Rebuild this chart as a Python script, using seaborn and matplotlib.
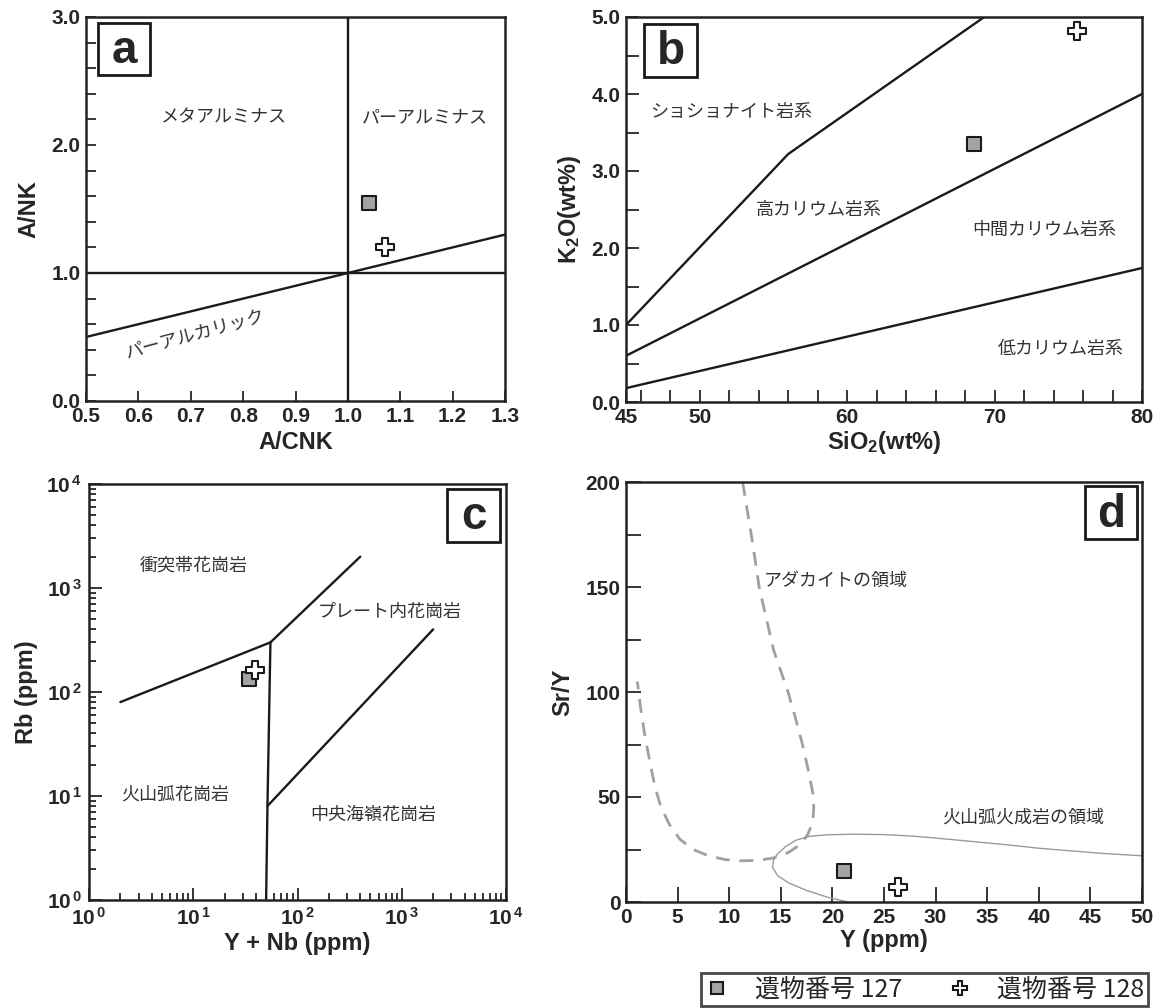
import numpy as np
import matplotlib
matplotlib.use("Agg")
import matplotlib.pyplot as plt
import seaborn as sns
from matplotlib.lines import Line2D
from matplotlib.patches import Rectangle
from matplotlib.ticker import FixedLocator, LogLocator, NullFormatter, FuncFormatter

# ── Samples ───────────────────────────────────────────────
SAMPLES = ["遺物番号 127", "遺物番号 128"]
FILLS   = {"遺物番号 127": "#a3a3a3", "遺物番号 128": "white"}
MARKS   = {"遺物番号 127": "s", "遺物番号 128": "P"}

# (a) A/CNK vs A/NK
A_CNK = [1.04, 1.07]
A_NK  = [1.55, 1.20]
A_HL_X, A_HL_Y = [0.5, 1.3], [1.0, 1.0]
A_VL_X, A_VL_Y = [1.0, 1.0], [0.0, 3.0]
A_DG_X, A_DG_Y = [0.5, 1.3], [0.5, 1.3]

# (b) SiO2 vs K2O
SIO2 = [68.6, 75.6]
K2O  = [3.35, 4.82]
B_SHO_X, B_SHO_Y = [45, 56, 69.3], [1.0, 3.22, 5.0]
B_HK_X,  B_HK_Y  = [45, 80], [0.6, 4.0]
B_CA_X,  B_CA_Y  = [45, 80], [0.18, 1.74]

# (c) Y+Nb vs Rb
YNB = [34, 39]
RB  = [132, 163]
C_SYN_X, C_SYN_Y   = [2, 55], [80, 300]
C_WPG_X, C_WPG_Y   = [55, 400], [300, 2000]
C_VERT_X, C_VERT_Y = [55, 51.5, 50], [300, 8, 1]
C_ORG_X, C_ORG_Y   = [51.5, 2000], [8, 400]

# (d) Y vs Sr/Y
Y_PPM = [21.1, 26.4]
SR_Y  = [14.9, 7.1]
ADK_X = [11.3, 11.8, 12.3, 12.9, 13.6, 14.3, 15.0, 15.7, 16.4, 17.1, 17.7, 18.1,
         18.2, 18.1, 17.6, 16.8, 15.7, 14.3, 12.8, 11.2, 9.6, 8.0, 6.5, 5.2,
         4.2, 3.4, 2.8, 2.3, 1.8, 1.4, 1.1]
ADK_Y = [200, 185, 170, 150, 135, 120, 110, 100, 88, 75, 62, 52,
         45, 38, 32, 27, 23.5, 21, 19.8, 19.6, 20.2, 22, 25, 30,
         37, 45, 55, 67, 80, 93, 105]
ARC_X = [21.5, 19.5, 17.5, 15.8, 14.7, 14.2, 14.3, 14.7, 15.5, 16.5, 17.8, 19.5,
         22, 25, 28, 31, 34, 37, 40, 43, 46, 50]
ARC_Y = [0, 2.3, 5.5, 9, 12.5, 16.5, 20, 23, 26.5, 29.5, 31.3, 32.0,
         32.3, 32.1, 31.3, 30, 28.6, 27.2, 25.6, 24.4, 23.2, 22]

# ── Style ─────────────────────────────────────────────────
sns.set_style("ticks")
plt.rcParams["font.family"] = ["Liberation Sans", "Noto Sans CJK JP"]
plt.rcParams.update({
    "font.weight": "bold",
    "axes.labelweight": "bold",
    "axes.labelsize": 17,
    "xtick.labelsize": 15,
    "ytick.labelsize": 15,
    "xtick.direction": "in",
    "ytick.direction": "in",
    "axes.linewidth": 1.8,
    "axes.edgecolor": "#222222",
    "xtick.major.width": 1.3,
    "ytick.major.width": 1.3,
    "xtick.minor.width": 1.3,
    "ytick.minor.width": 1.3,
    "mathtext.fontset": "custom",
    "mathtext.rm": "Liberation Sans:bold",
    "mathtext.bf": "Liberation Sans:bold",
    "mathtext.it": "Liberation Sans:bold:italic",
})

JP = dict(family="Noto Sans CJK JP", fontweight="normal", fontsize=13, color="#333333")
LINE = dict(color="#1a1a1a", linewidth=1.7)


def draw_line(ax, xs, ys, **kw):
    sns.lineplot(x=xs, y=ys, sort=False, estimator=None, ax=ax, legend=False, **kw)


def draw_points(ax, xs, ys):
    for x, y, name in zip(xs, ys, SAMPLES):
        size = 95 if MARKS[name] == "s" else 150
        sns.scatterplot(x=[x], y=[y], marker=MARKS[name], color=FILLS[name],
                        edgecolor="#1a1a1a", linewidth=1.5, s=size, ax=ax,
                        legend=False, zorder=6)


def add_letter(ax, letter, x0, y0, x1, y1):
    ax.add_patch(Rectangle((x0, y0), x1 - x0, y1 - y0, transform=ax.transAxes,
                           facecolor="white", edgecolor="#1a1a1a", linewidth=2,
                           zorder=7, clip_on=False))
    ax.text((x0 + x1) / 2, (y0 + y1) / 2 - 0.005, letter, transform=ax.transAxes,
            ha="center", va="center", fontsize=33, fontweight="bold", zorder=8)


W, H = 1169, 1008
fig = plt.figure(figsize=(W / 100, H / 100), dpi=100)


def axes_px(left, right, top, bottom):
    return fig.add_axes([left / W, 1 - bottom / H, (right - left) / W, (bottom - top) / H])


ax_a = axes_px(86, 505, 17, 401)
ax_b = axes_px(626, 1142, 17, 402)
ax_c = axes_px(89, 506, 484, 900)
ax_d = axes_px(626, 1142, 482, 902)

# ── (a) ──────────────────────────────────────────────────
ax = ax_a
draw_line(ax, A_HL_X, A_HL_Y, **LINE)
draw_line(ax, A_VL_X, A_VL_Y, **LINE)
draw_line(ax, A_DG_X, A_DG_Y, **LINE)
draw_points(ax, A_CNK, A_NK)
ax.set_xlim(0.5, 1.3); ax.set_ylim(0, 3)
ax.xaxis.set_major_locator(FixedLocator(np.arange(0.5, 1.31, 0.1)))
ax.xaxis.set_major_formatter(FuncFormatter(lambda v, p: f"{v:.1f}"))
ax.yaxis.set_major_locator(FixedLocator([0, 1, 2, 3]))
ax.yaxis.set_major_formatter(FuncFormatter(lambda v, p: f"{v:.1f}"))
ax.yaxis.set_minor_locator(FixedLocator(np.arange(0, 3.01, 0.2)))
ax.tick_params(which="both", length=7, pad=4)
ax.set_xlabel("A/CNK", labelpad=4)
ax.set_ylabel("A/NK", labelpad=8)
ax.text(0.763, 2.22, "メタアルミナス", ha="center", va="center", **JP)
ax.text(1.147, 2.22, "パーアルミナス", ha="center", va="center", **JP)
ax.text(0.71, 0.51, "パーアルカリック", ha="center", va="center", rotation=15, **JP)
add_letter(ax, "a", 0.029, 0.849, 0.153, 0.984)

# ── (b) ──────────────────────────────────────────────────
ax = ax_b
draw_line(ax, B_SHO_X, B_SHO_Y, **LINE)
draw_line(ax, B_HK_X, B_HK_Y, **LINE)
draw_line(ax, B_CA_X, B_CA_Y, **LINE)
draw_points(ax, SIO2, K2O)
ax.set_xlim(45, 80); ax.set_ylim(0, 5)
ax.xaxis.set_major_locator(FixedLocator([45, 50, 60, 70, 80]))
ax.xaxis.set_minor_locator(FixedLocator(np.arange(46, 81, 2)))
ax.yaxis.set_major_locator(FixedLocator([0, 1, 2, 3, 4, 5]))
ax.yaxis.set_major_formatter(FuncFormatter(lambda v, p: f"{v:.1f}"))
ax.yaxis.set_minor_locator(FixedLocator(np.arange(0, 5.01, 0.5)))
ax.tick_params(which="both", length=9, pad=4)
ax.set_xlabel(r"SiO$_\mathregular{2}$(wt%)", labelpad=2)
ax.set_ylabel(r"K$_\mathregular{2}$O(wt%)", labelpad=6)
ax.text(52.1, 3.77, "ショショナイト岩系", ha="center", va="center", **JP)
ax.text(58.1, 2.49, "高カリウム岩系", ha="center", va="center", **JP)
ax.text(73.4, 2.24, "中間カリウム岩系", ha="center", va="center", **JP)
ax.text(74.5, 0.69, "低カリウム岩系", ha="center", va="center", **JP)
add_letter(ax, "b", 0.035, 0.844, 0.138, 0.982)

# ── (c) ──────────────────────────────────────────────────
ax = ax_c
draw_line(ax, C_SYN_X, C_SYN_Y, **LINE)
draw_line(ax, C_WPG_X, C_WPG_Y, **LINE)
draw_line(ax, C_VERT_X, C_VERT_Y, **LINE)
draw_line(ax, C_ORG_X, C_ORG_Y, **LINE)
draw_points(ax, YNB, RB)
ax.set_xscale("log"); ax.set_yscale("log")
ax.set_xlim(1, 1e4); ax.set_ylim(1, 1e4)
dec_fmt = FuncFormatter(lambda v, p: r"$10^{\,%d}$" % round(np.log10(v)))
for axis in (ax.xaxis, ax.yaxis):
    axis.set_major_locator(LogLocator(base=10, numticks=10))
    axis.set_minor_locator(LogLocator(base=10, subs=np.arange(2, 10), numticks=20))
    axis.set_major_formatter(dec_fmt)
    axis.set_minor_formatter(NullFormatter())
ax.tick_params(which="major", length=9, pad=5)
ax.tick_params(which="minor", length=5)
ax.set_xlabel("Y + Nb (ppm)", labelpad=2)
ax.set_ylabel("Rb (ppm)", labelpad=6)
ax.text(10, 1650, "衝突帯花崗岩", ha="center", va="center", **JP)
ax.text(760, 585, "プレート内花崗岩", ha="center", va="center", **JP)
ax.text(6.7, 10.3, "火山弧花崗岩", ha="center", va="center", **JP)
ax.text(530, 6.6, "中央海嶺花崗岩", ha="center", va="center", **JP)
add_letter(ax, "c", 0.859, 0.861, 0.986, 0.988)

# ── (d) ──────────────────────────────────────────────────
ax = ax_d
draw_line(ax, ADK_X, ADK_Y, color="#a0a0a0", linewidth=2.0, linestyle=(0, (5, 3.5)))
draw_line(ax, ARC_X, ARC_Y, color="#9a9a9a", linewidth=1.0)
draw_points(ax, Y_PPM, SR_Y)
ax.set_xlim(0, 50); ax.set_ylim(0, 200)
ax.xaxis.set_major_locator(FixedLocator(np.arange(0, 51, 5)))
ax.yaxis.set_major_locator(FixedLocator(np.arange(0, 201, 50)))
ax.yaxis.set_minor_locator(FixedLocator(np.arange(0, 201, 25)))
ax.tick_params(which="both", length=11, pad=4)
ax.set_xlabel("Y (ppm)", labelpad=2)
ax.set_ylabel("Sr/Y", labelpad=8)
ax.text(20.3, 153, "アダカイトの領域", ha="center", va="center", **JP)
ax.text(38.5, 40, "火山弧火成岩の領域", ha="center", va="center", **JP)
add_letter(ax, "d", 0.89, 0.864, 0.99, 0.99)

# ── Legend ───────────────────────────────────────────────
handles = [Line2D([], [], ls="", marker=MARKS[n], markerfacecolor=FILLS[n],
                  markeredgecolor="#1a1a1a", markeredgewidth=1.5,
                  markersize=8 if MARKS[n] == "s" else 10) for n in SAMPLES]
leg = fig.legend(handles, SAMPLES, ncol=2, loc="lower right",
                 bbox_to_anchor=(1148 / W, 1 - 1006 / H), frameon=True, fancybox=False,
                 prop={"family": "Noto Sans CJK JP", "size": 18, "weight": "normal"},
                 borderpad=0.15, columnspacing=1.8, handletextpad=1.0,
                 handlelength=1.0, borderaxespad=0.0)
leg.get_frame().set_edgecolor("#1a1a1a")
leg.get_frame().set_linewidth(2)

fig.savefig("out.png", dpi=100)
